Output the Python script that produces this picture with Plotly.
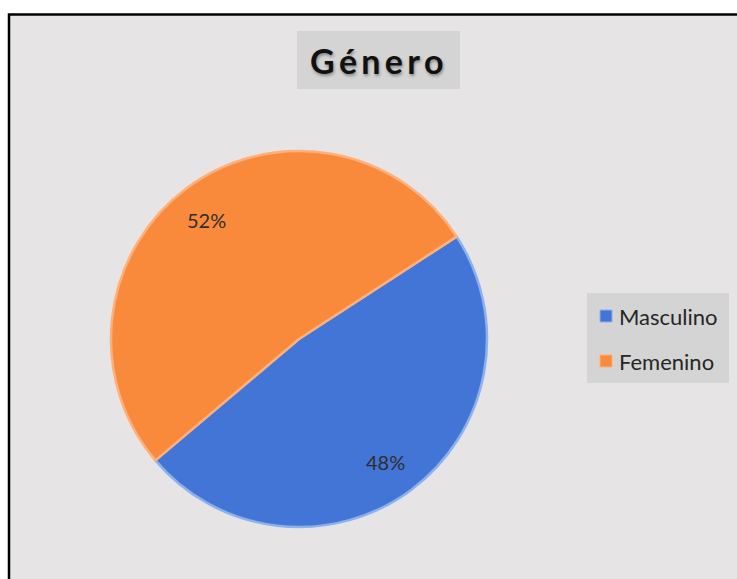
import math
import plotly.graph_objects as go

# Data
labels = ["Masculino", "Femenino"]
values = [48, 52]
colors = ["#4275D6", "#FA8A3B"]
edge_colors = ["#8DB0EE", "#FDB07A"]
title_text = "Género"

W, H = 737, 579
FONT = "Lato"


def px(x):
    return x / W


def py(y):
    return 1 - y / H


# pie geometry (pixels)
cx, cy, r = 299, 339, 188
rotation = 57
dom_x = [px(cx - r), px(cx + r)]
dom_y = [py(cy + r), py(cy - r)]

fig = go.Figure()
fig.add_trace(go.Pie(
    labels=labels,
    values=values,
    sort=False,
    direction="clockwise",
    rotation=rotation,
    marker=dict(colors=colors, line=dict(color=edge_colors, width=2.5)),
    textinfo="none",
    hoverinfo="label+percent",
    domain=dict(x=dom_x, y=dom_y),
    showlegend=False,
))

shapes = [
    # chart area with black frame
    dict(type="rect", xref="paper", yref="paper",
         x0=px(9), x1=1.05, y0=-0.05, y1=py(14.5),
         fillcolor="#E6E4E4", line=dict(color="#000000", width=2.5),
         layer="below"),
    # title box
    dict(type="rect", xref="paper", yref="paper",
         x0=px(297), x1=px(460), y0=py(89), y1=py(31),
         fillcolor="#D5D4D4", line=dict(width=0), layer="below"),
    # legend box
    dict(type="rect", xref="paper", yref="paper",
         x0=px(587), x1=px(729), y0=py(383), y1=py(293),
         fillcolor="#D5D4D4", line=dict(width=0), layer="below"),
]

annotations = [
    dict(text="<b>" + "\u2009".join(title_text) + "</b>",
         x=px(377), y=py(60), xref="paper", yref="paper",
         showarrow=False, xanchor="center", yanchor="middle",
         font=dict(family=FONT, size=34, color="#111111",
                   shadow="1px 2px 3px rgba(0,0,0,0.35)")),
]

# percent labels along each slice's bisector
total = sum(values)
start = rotation
for v in values:
    sweep = 360 * v / total
    mid = math.radians(start + sweep / 2)
    lx = cx + 0.8 * r * math.sin(mid)
    ly = cy - 0.8 * r * math.cos(mid)
    annotations.append(dict(
        text=f"{round(100 * v / total)}%", x=px(lx - 3), y=py(ly + 2),
        xref="paper", yref="paper", showarrow=False,
        xanchor="center", yanchor="middle",
        font=dict(family=FONT, size=20, color="#2E2E2E")))
    start += sweep

# legend entries
for i, (lab, col) in enumerate(zip(labels, colors)):
    yc = 316 + 45 * i
    shapes.append(dict(type="rect", xref="paper", yref="paper",
                       x0=px(600), x1=px(612), y0=py(yc + 6), y1=py(yc - 6),
                       fillcolor=col, line=dict(color=edge_colors[i], width=1)))
    annotations.append(dict(text=lab, x=px(617), y=py(yc), xref="paper", yref="paper",
                            showarrow=False, xanchor="left", yanchor="middle",
                            font=dict(family=FONT, size=22, color="#262626")))

fig.update_layout(
    width=W, height=H,
    margin=dict(l=0, r=0, t=0, b=0),
    paper_bgcolor="#FFFFFF",
    plot_bgcolor="#FFFFFF",
    shapes=shapes,
    annotations=annotations,
    showlegend=False,
)

fig.write_html("out.html")
